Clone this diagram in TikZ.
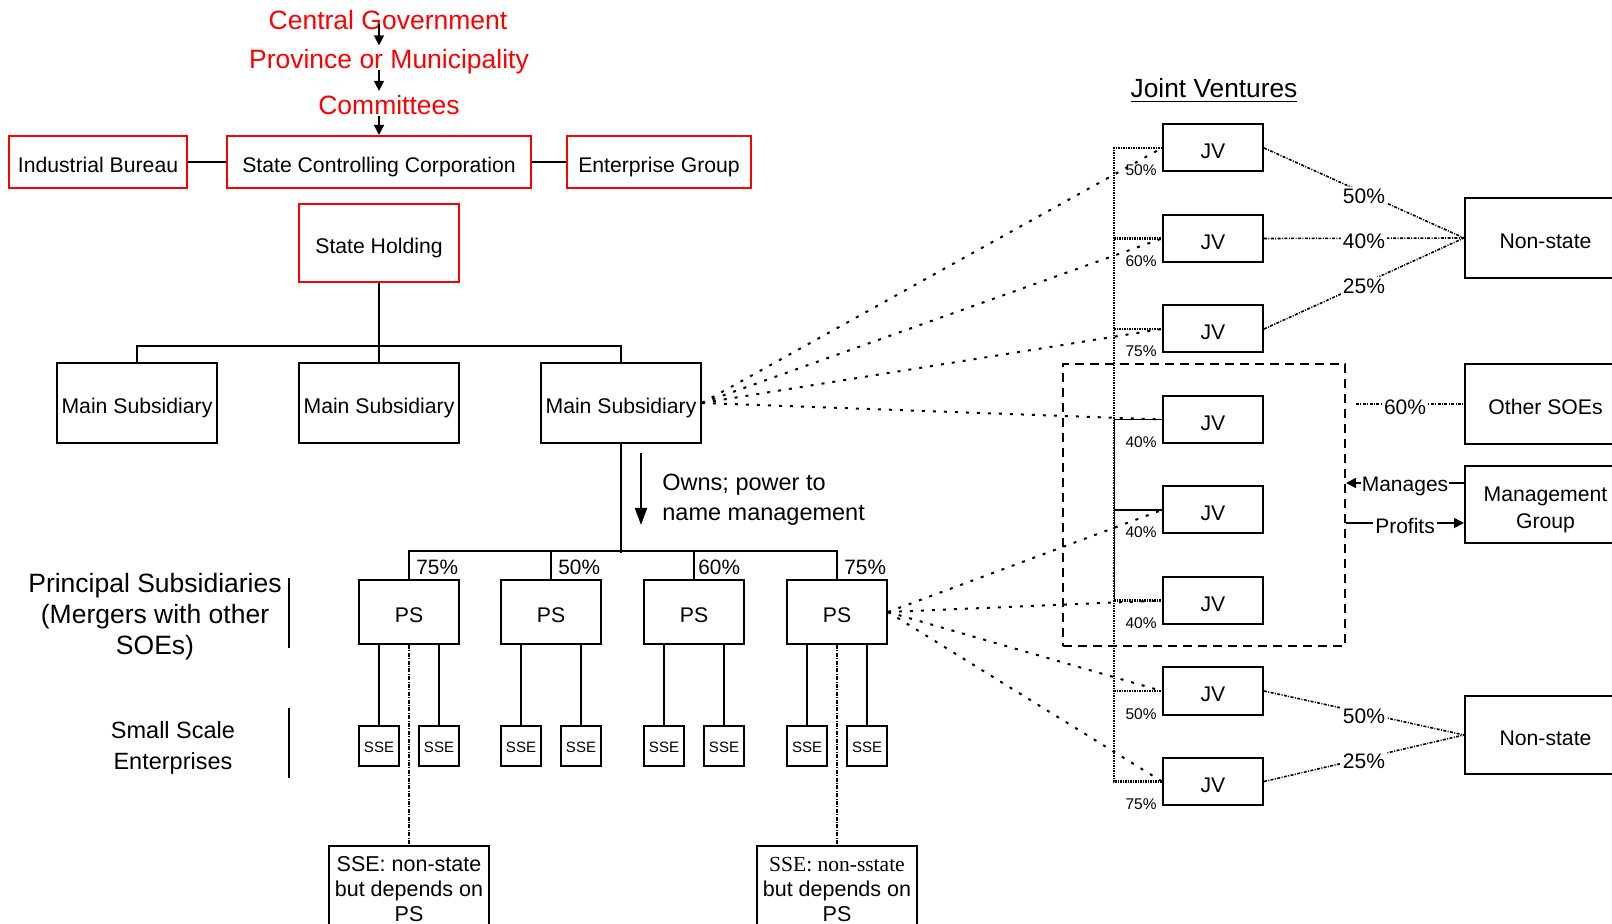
\documentclass[tikz,border=0pt]{standalone}
\usepackage{fontspec}
\setmainfont{Liberation Sans}
\newfontfamily\serifface{Liberation Serif}
\usetikzlibrary{arrows.meta}
\definecolor{pptred}{RGB}{255,0,0}
\newcommand{\fsz}[2]{\fontsize{#1}{#2}\selectfont}
\begin{document}
\begin{tikzpicture}[x=0.5pt,y=-0.5pt,
  redtxt/.style={text=pptred, font=\fsz{13.25}{16}, inner sep=0pt, anchor=base},
  bx/.style={draw, line width=1pt, inner sep=0pt, font=\fsz{10.6}{13}},
  tb/.style={bx, text height=11.7pt, text depth=1.1pt},
  redbx/.style={tb, draw=pptred},
  ssebx/.style={bx, font=\fsz{7.5}{9}, text height=6.75pt, text depth=0.75pt},
  sz/.style 2 args={minimum width=#1*0.5pt, minimum height=#2*0.5pt},
  conn/.style={line width=1pt},
  sarr/.style={line width=0.7pt, -{Triangle[width=5pt,length=5pt]}},
  bigarr/.style={line width=1pt, -{Triangle[width=6pt,length=8.5pt]}},
  fan/.style={line width=1pt, dash pattern=on 1.5pt off 4pt},
  spine/.style={line width=1.1pt, dash pattern=on 0.75pt off 0.5pt},
  jvl/.style={line width=0.8pt, dash pattern=on 1.5pt off 0.7pt on 0.5pt off 0.7pt},
  ddash/.style={line width=0.6pt, dash pattern=on 2pt off 0.7pt on 0.5pt off 0.7pt},
  grpstyle/.style={draw, line width=1pt, dash pattern=on 4.5pt off 3pt},
  lbl/.style={fill=white, inner sep=1pt, yshift=-1.5pt, font=\fsz{10.5}{12}},
  pct/.style={anchor=base west, inner sep=0pt, font=\fsz{10.4}{12}},
  small/.style={anchor=base east, inner sep=0pt, font=\fsz{7.75}{9}}
]
\fill[white] (0,0) rectangle (1612,924);
\clip (0,0) rectangle (1612,924);

% ---------- top (red) ----------
\node[redtxt] (cg) at (388,29.5) {Central Government};
\node[redtxt] (pm) at (389,69) {Province or Municipality};
\node[redtxt] (com) at (389,114.5) {Committees};
\node[redbx, sz={178}{52}] (ib) at (98,162) {Industrial Bureau};
\node[redbx, sz={304}{52}] (scc) at (379,162) {State Controlling Corporation};
\node[redbx, sz={184}{52}] (eg) at (659,162) {Enterprise Group};
\node[redbx, sz={160}{78}] (sh) at (379,243) {State Holding};
\draw[conn] (ib) -- (scc);
\draw[conn] (scc) -- (eg);
\coordinate (a1) at (379,24);
\coordinate (a2) at (379,70);
\coordinate (a3) at (379,116);
\draw[sarr] (a1) -- ([yshift=2pt]a1 |- pm.north);
\draw[sarr] (a2) -- ([yshift=2pt]a2 |- com.north);
\draw[sarr] (a3) -- (scc.north);

% ---------- main subsidiaries ----------
\node[tb, sz={160}{80}] (ms1) at (137,403) {Main Subsidiary};
\node[tb, sz={160}{80}] (ms2) at (379,403) {Main Subsidiary};
\node[tb, sz={160}{80}] (ms3) at (621,403) {Main Subsidiary};
\draw[conn] (sh.south) -- (ms2.north);
\draw[conn] (ms1.north) -- ++(0,-16) -| (ms3.north);

\coordinate (ow1) at (641,453);
\coordinate (ow2) at (641,525);
\draw[bigarr] (ow1) -- (ow2);
\node[anchor=north west, align=left, inner sep=0pt, font=\fsz{11.75}{15}] (owns) at (662,474) {Owns; power to\\name management};

% ---------- principal subsidiaries ----------
\node[tb, sz={100}{64}] (ps1) at (409,612) {PS};
\node[tb, sz={100}{64}] (ps2) at (551,612) {PS};
\node[tb, sz={100}{64}] (ps3) at (694,612) {PS};
\node[tb, sz={100}{64}] (ps4) at (837,612) {PS};
\draw[conn] (ms3.south) -- ++(0,109);
\draw[conn] (ps1.north) -- ++(0,-28) -| (ps4.north);
\draw[conn] (ps2.north) -- ++(0,-28);
\draw[conn] (ps3.north) -- ++(0,-28);
\node[pct] (p1) at ([xshift=3.5pt,yshift=2pt]ps1.north) {75\%};
\node[pct] (p2) at ([xshift=3.5pt,yshift=2pt]ps2.north) {50\%};
\node[pct] (p3) at ([xshift=2pt,yshift=2pt]ps3.north) {60\%};
\node[pct] (p4) at ([xshift=3.5pt,yshift=2pt]ps4.north) {75\%};

\foreach \p/\a/\b in {1/379/439, 2/521/581, 3/664/724, 4/807/867} {
  \node[ssebx, sz={40}{40}] (sa\p) at (\a,746) {SSE};
  \node[ssebx, sz={40}{40}] (sb\p) at (\b,746) {SSE};
  \draw[conn] (sa\p.north) -- (sa\p.north |- ps\p.south);
  \draw[conn] (sb\p.north) -- (sb\p.north |- ps\p.south);
}

\node[bx, sz={160}{86}, align=center, font=\fsz{10.75}{12.5}] (nsa) at (409,889) {SSE: non-state\\but depends on\\PS};
\node[bx, sz={160}{86}, align=center, font=\fsz{10.75}{12.5}] (nsb) at (837,889) {{\serifface SSE: non-sstate}\\but depends on\\PS};
\draw[ddash] (ps1.south) -- (nsa.north);
\draw[ddash] (ps4.south) -- (nsb.north);

% ---------- left labels ----------
\node[anchor=north, align=center, inner sep=0pt, font=\fsz{13.25}{15.5}] (princ) at (155,573) {Principal Subsidiaries\\(Mergers with other\\SOEs)};
\coordinate (b1t) at (289,578);
\coordinate (b1b) at (289,648);
\draw[conn] (b1t) -- (b1b);
\node[anchor=north, align=center, inner sep=0pt, font=\fsz{11.75}{15.5}] (ssel) at (173,721) {Small Scale\\Enterprises};
\coordinate (b2t) at (289,708);
\coordinate (b2b) at (289,778);
\draw[conn] (b2t) -- (b2b);

% ---------- joint ventures ----------
\node[anchor=base, inner sep=0pt, font=\fsz{13.15}{16}] (jvt) at (1214,98) {\underline{Joint Ventures}};
\node[grpstyle, sz={282}{282}, inner sep=0pt] (grp) at (1204,505) {};

\foreach \i/\y/\p in {1/148/50,2/238.5/60,3/329/75,4/419.5/40,5/510/40,6/600.5/40,7/691/50,8/781.5/75} {
  \node[tb, sz={100}{47}] (jv\i) at (1213,\y) {JV};
  \node[small] (jp\i) at (1157,\y+28) {\p\%};
}
\coordinate (spx) at (1114,0);
\draw[spine] (jv1.west) -- (jv1.west -| spx) -- (jv8.west -| spx) -- (jv8.west);
\foreach \i in {2,3,6,7} \draw[spine] (jv\i.west -| spx) -- (jv\i.west);
\foreach \i in {4,5} \draw[line width=0.8pt] (jv\i.west -| spx) -- (jv\i.west);
\draw[line width=0.5pt] (jv4.west -| spx) -- (jv6.west -| spx);

\foreach \i in {1,...,4} \draw[fan] (ms3.east) -- (jv\i.west);
\foreach \i in {5,...,8} \draw[fan] (ps4.east) -- (jv\i.west);

% ---------- right boxes ----------
\node[tb, sz={161}{80}] (nsr1) at (1545.5,238) {Non-state};
\node[tb, sz={161}{80}] (soe) at (1545.5,404) {Other SOEs};
\node[bx, sz={161}{77}] (mg) at (1545.5,504.5) {};
\node[align=center, inner sep=0pt, font=\fsz{10.6}{13.5}] (mgt) at ([yshift=-2.75pt]mg.center) {Management\\Group};
\node[tb, sz={161}{78}] (nsr2) at (1545.5,735) {Non-state};

\draw[jvl] (jv1.east) -- node[lbl]{50\%} (nsr1.west);
\draw[jvl] (jv2.east) -- node[lbl]{40\%} (nsr1.west);
\draw[jvl] (jv3.east) -- node[lbl]{25\%} (nsr1.west);
\draw[jvl] (jv7.east) -- node[lbl]{50\%} (nsr2.west);
\draw[jvl] (jv8.east) -- node[lbl]{25\%} (nsr2.west);
\draw[jvl, shorten <=5pt] (grp.east |- soe.west) -- node[lbl]{60\%} (soe.west);
\draw[sarr, line width=0.8pt] ([yshift=10.75pt]mg.west) -- node[lbl, inner xsep=0.5pt]{Manages\hspace{3pt}} ([yshift=10.75pt]mg.west -| grp.east);
\draw[sarr, line width=0.8pt] ([yshift=-9.25pt]mg.west -| grp.east) -- node[lbl]{Profits} ([yshift=-9.25pt]mg.west);
\end{tikzpicture}
\end{document}
